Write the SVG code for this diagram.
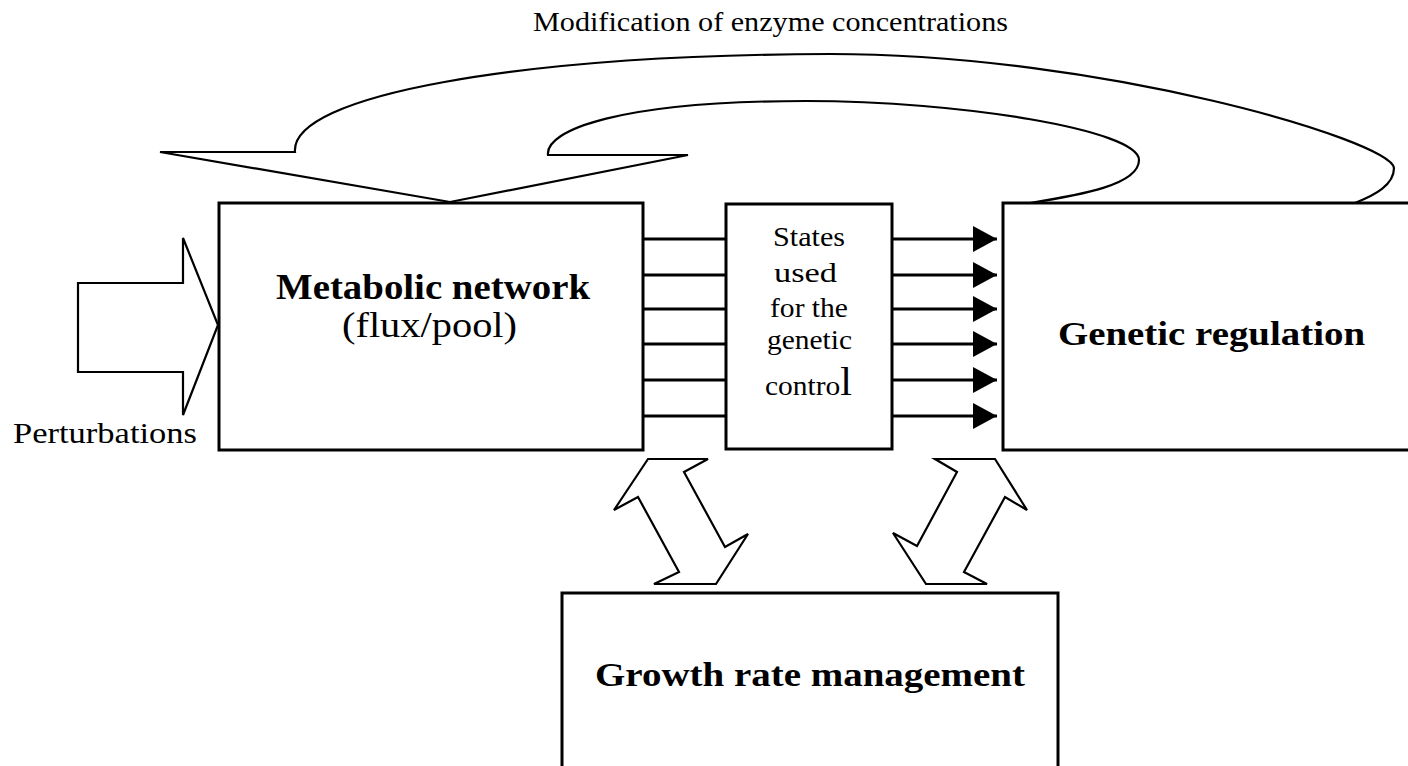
<svg xmlns="http://www.w3.org/2000/svg" width="1408" height="766" viewBox="0 0 1408 766">
<defs>
<style>
.box{fill:#fff;stroke:#000;stroke-width:3}
.ln{stroke:#000;stroke-width:3;fill:none}
.blk{fill:#fff;stroke:#000;stroke-width:2.2;stroke-linejoin:miter}
.t{font-family:"Liberation Serif","Times New Roman",serif;fill:#000}
.b{font-weight:bold}
</style>
<marker id="ah" viewBox="0 0 24 26" refX="24" refY="13" markerWidth="24" markerHeight="26" markerUnits="userSpaceOnUse" orient="auto">
<path d="M0,0 L24,13 L0,26 Z" fill="#000"/>
</marker>
</defs>
<rect width="1408" height="766" fill="#fff"/>

<g id="connectors">
<path class="blk" d="M1355,203 C1375,195 1394,185 1394,168 C1390,140 1100,54 830,54 C520,55 290,95 295,152 L160,152 L450,202 L688,155 L548,155 C545,130 620,101 806,101 C960,101 1139,130 1139,160 C1139,185 1080,195 1030,203" style="fill:none"/>
<path id="perturb-arrow" class="blk" d="M78,283 L183,283 L183,238 L218,325 L183,415 L183,372 L78,372 Z"/>
<g id="lines-in">
<line class="ln" x1="643" y1="239" x2="726" y2="239"/>
<line class="ln" x1="643" y1="275" x2="726" y2="275"/>
<line class="ln" x1="643" y1="309" x2="726" y2="309"/>
<line class="ln" x1="643" y1="344" x2="726" y2="344"/>
<line class="ln" x1="643" y1="380" x2="726" y2="380"/>
<line class="ln" x1="643" y1="416" x2="726" y2="416"/>
</g>
<g id="arrows-out">
<line class="ln" x1="892" y1="239" x2="997" y2="239" marker-end="url(#ah)"/>
<line class="ln" x1="892" y1="275" x2="997" y2="275" marker-end="url(#ah)"/>
<line class="ln" x1="892" y1="309" x2="997" y2="309" marker-end="url(#ah)"/>
<line class="ln" x1="892" y1="344" x2="997" y2="344" marker-end="url(#ah)"/>
<line class="ln" x1="892" y1="380" x2="997" y2="380" marker-end="url(#ah)"/>
<line class="ln" x1="892" y1="416" x2="997" y2="416" marker-end="url(#ah)"/>
</g>
<path id="dbl-left" class="blk" d="M648,459 L708,459 L684,472 L725,547 L748,534 L716,584 L654,584 L679,572 L638,497 L614,510 Z"/>
<path id="dbl-right" class="blk" d="M935,459 L995,459 L1027,510 L1005,497 L964,572 L987,584 L926,584 L893,533 L917,546 L957,472 Z"/>
</g>

<text class="t" x="533" y="31" font-size="28" textLength="475" lengthAdjust="spacingAndGlyphs">Modification of enzyme concentrations</text>
<text class="t" x="13" y="443" font-size="29" textLength="184" lengthAdjust="spacingAndGlyphs">Perturbations</text>

<g id="metabolic">
<rect class="box" x="219" y="203" width="424" height="247"/>
<text class="t b" x="276" y="299" font-size="36" textLength="314" lengthAdjust="spacingAndGlyphs">Metabolic network</text>
<text class="t" x="342" y="337" font-size="35" textLength="175" lengthAdjust="spacingAndGlyphs">(flux/pool)</text>
</g>

<g id="states">
<rect class="box" x="726" y="204" width="166" height="245"/>
<g class="t" font-size="28" lengthAdjust="spacingAndGlyphs">
<text x="773" y="246" textLength="72" lengthAdjust="spacingAndGlyphs">States</text>
<text x="774" y="282" textLength="63" lengthAdjust="spacingAndGlyphs">used</text>
<text x="770" y="317" textLength="78" lengthAdjust="spacingAndGlyphs">for the</text>
<text x="767" y="349" textLength="85" lengthAdjust="spacingAndGlyphs">genetic</text>
<text x="765" y="395" textLength="87" lengthAdjust="spacingAndGlyphs">contro<tspan font-size="40">l</tspan></text>
</g>
</g>

<g id="genetic">
<rect class="box" x="1003" y="203" width="420" height="247"/>
<text class="t b" x="1058" y="345" font-size="34" textLength="307" lengthAdjust="spacingAndGlyphs">Genetic regulation</text>
</g>

<g id="growth">
<rect class="box" x="562" y="593" width="496" height="200"/>
<text class="t b" x="595" y="686" font-size="33" textLength="430" lengthAdjust="spacingAndGlyphs">Growth rate management</text>
</g>
</svg>
